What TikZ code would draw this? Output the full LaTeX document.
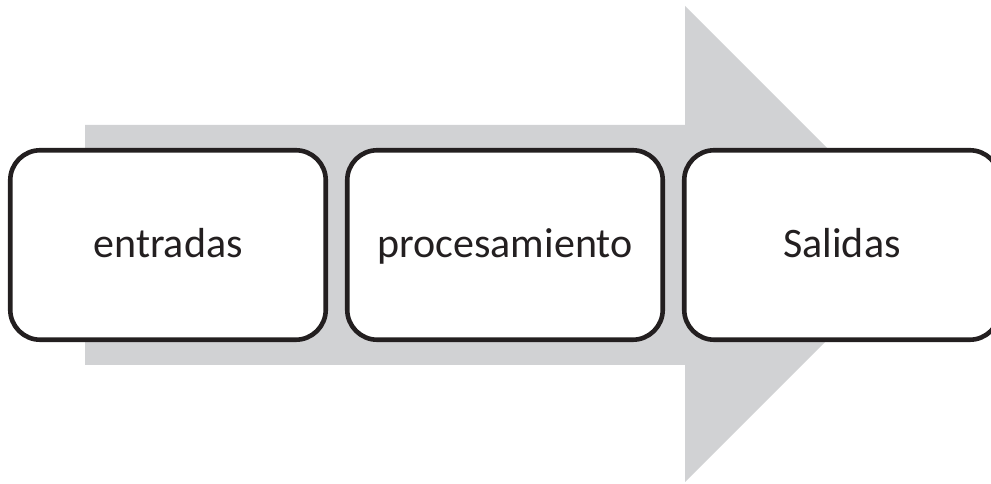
\documentclass[tikz,border=0pt]{standalone}
\usepackage{fontspec}
\setmainfont{Carlito}
\usepackage{tikz}
\usetikzlibrary{positioning}
\definecolor{flowGray}{RGB}{209, 210, 212}
\definecolor{inkBlack}{RGB}{35, 31, 32}

\begin{document}
\begin{tikzpicture}[
  x=1pt, y=1pt,
  stage/.style={rectangle, rounded corners=30pt, draw=inkBlack, line width=4.6pt,
    fill=white, minimum width=315.5pt, minimum height=189.5pt, inner sep=0pt,
    text height=30pt, text depth=4pt,
    text=inkBlack, font=\fontsize{42}{50}\selectfont},
  node distance=16.9pt
]
  \useasboundingbox (0,0) rectangle (991,484);

  % --- Background flow arrow ---
  \fill[flowGray] (85,359) -- (685,359) -- (685,478) -- (923,240)
    -- (685,2) -- (685,119) -- (85,119) -- cycle;

  % --- Stages ---
  \node[stage] (entradas) at (168,239) {entradas};
  \node[stage, right=of entradas] (proceso) {procesamiento};
  \node[stage, right=of proceso] (salidas) {Salidas};
\end{tikzpicture}
\end{document}
